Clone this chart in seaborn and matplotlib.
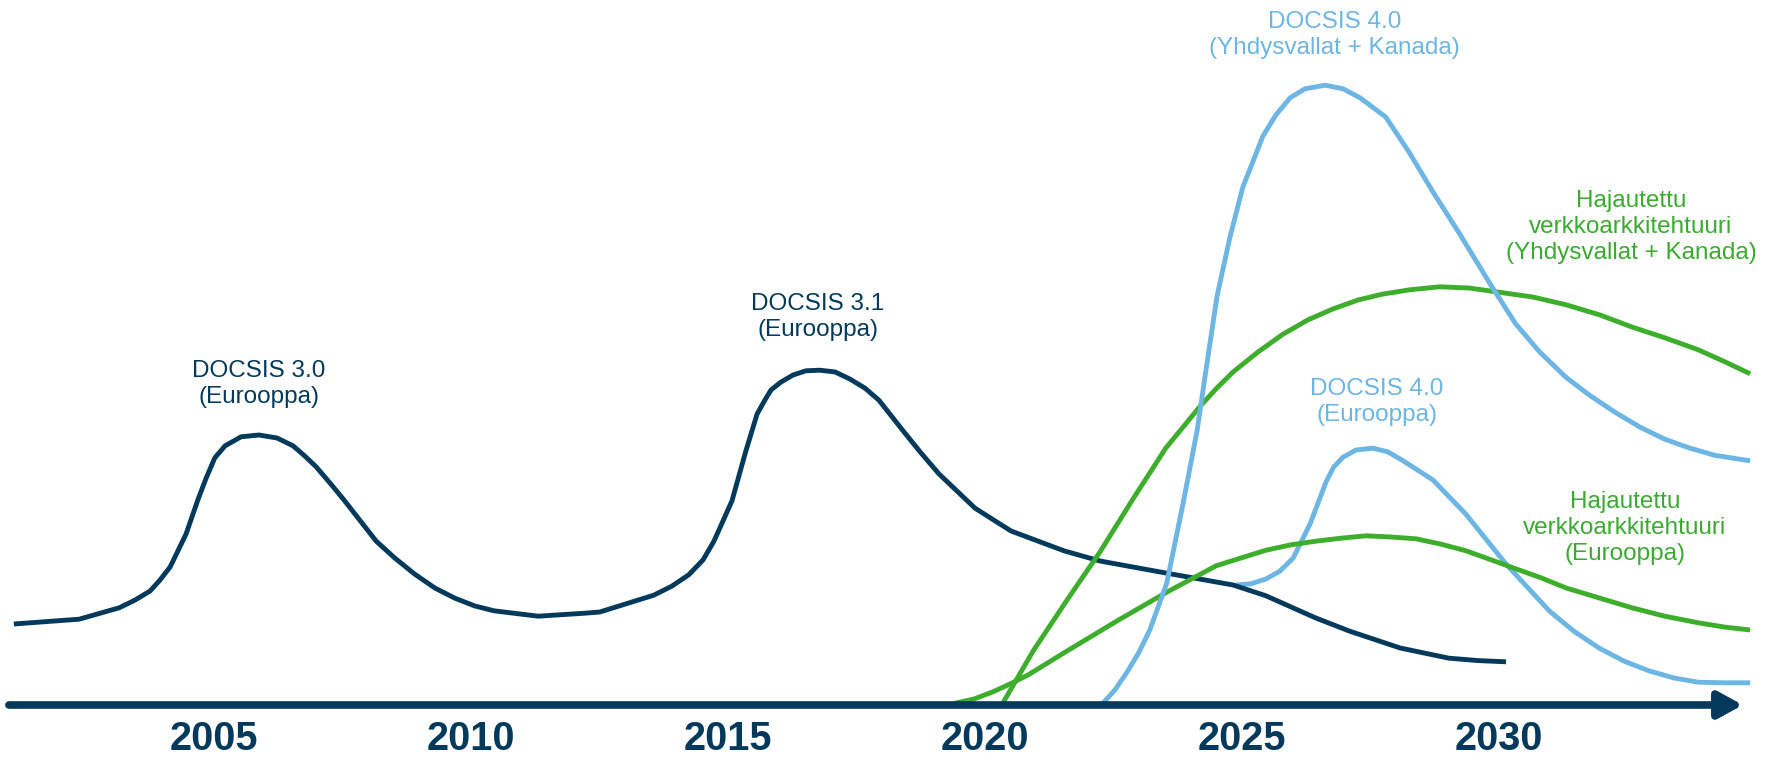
import matplotlib
matplotlib.use("Agg")
import matplotlib.pyplot as plt
import seaborn as sns
import pandas as pd

# ---------------- data (years, relative adoption level) ----------------
navy_years = [2001.11, 2002.38, 2003.16, 2003.47, 2003.76, 2003.95, 2004.15, 2004.46,
              2004.69, 2004.85, 2005.02, 2005.22, 2005.53, 2005.88, 2006.23, 2006.54,
              2006.77, 2006.99, 2007.26, 2007.53, 2007.84, 2008.16, 2008.52, 2008.91,
              2009.30, 2009.69, 2010.08, 2010.45, 2011.31, 2012.22, 2012.51, 2013.56,
              2013.91, 2014.24, 2014.52, 2014.73, 2015.08, 2015.35, 2015.57, 2015.72,
              2015.84, 2016.03, 2016.27, 2016.52, 2016.79, 2017.09, 2017.38, 2017.67,
              2017.94, 2018.41, 2018.74, 2019.11, 2019.81, 2020.51, 2021.54, 2022.24,
              2023.52, 2024.83, 2025.47, 2026.44, 2027.10, 2028.08, 2029.03, 2029.60,
              2030.14]
navy_level = [13.5, 14.3, 16.2, 17.5, 19.0, 20.8, 23.0, 28.5,
              34.2, 37.8, 41.2, 43.2, 44.7, 45.0, 44.5, 43.2,
              41.5, 39.7, 37.0, 34.2, 30.8, 27.3, 24.5, 21.8,
              19.5, 17.8, 16.5, 15.7, 14.8, 15.3, 15.5, 18.3,
              19.8, 21.7, 24.2, 27.3, 34.0, 42.3, 48.5, 50.8,
              52.5, 53.8, 55.0, 55.7, 55.8, 55.5, 54.3, 52.8,
              50.8, 45.7, 42.2, 38.5, 32.8, 29.0, 25.7, 24.0,
              22.0, 20.0, 18.2, 14.5, 12.3, 9.5, 7.8, 7.4,
              7.2]

us_d40_years = [2022.30, 2022.53, 2022.77, 2023.00, 2023.21, 2023.54, 2023.86, 2024.13,
                2024.32, 2024.52, 2024.77, 2025.02, 2025.41, 2025.66, 2025.94, 2026.23,
                2026.62, 2026.97, 2027.30, 2027.80, 2028.25, 2028.72, 2029.24, 2029.83,
                2030.33, 2030.80, 2031.31, 2031.77, 2032.26, 2032.75, 2033.23, 2033.72,
                2034.21, 2034.89]
us_d40_level = [0.3, 2.5, 5.5, 8.8, 12.5, 20.3, 33.7, 45.7,
                56.8, 68.2, 78.0, 86.3, 94.8, 98.3, 101.2, 102.7,
                103.3, 102.7, 101.2, 98.0, 92.2, 85.5, 78.5, 70.2,
                63.5, 58.8, 54.6, 51.6, 48.8, 46.3, 44.3, 42.8,
                41.6, 40.7]

eu_d40_years = [2024.89, 2025.18, 2025.47, 2025.74, 2026.00, 2026.33, 2026.64, 2026.79,
                2026.97, 2027.22, 2027.55, 2027.84, 2028.14, 2028.72, 2029.36, 2030.14,
                2030.98, 2031.46, 2031.95, 2032.44, 2032.92, 2033.41, 2033.88, 2034.38,
                2034.89]
eu_d40_level = [20.0, 20.2, 21.0, 22.3, 24.5, 30.2, 37.2, 39.7,
                41.3, 42.5, 42.8, 42.2, 40.7, 37.5, 31.8, 23.5,
                15.7, 12.3, 9.5, 7.3, 5.7, 4.5, 3.8, 3.7,
                3.7]

us_dist_years = [2020.35, 2020.94, 2021.60, 2022.24, 2022.88, 2023.52, 2024.19, 2024.50,
                 2024.83, 2025.31, 2025.80, 2026.29, 2026.77, 2027.26, 2027.75, 2028.27,
                 2028.84, 2029.42, 2030.00, 2030.66, 2031.31, 2031.97, 2032.59, 2033.23,
                 2033.88, 2034.40, 2034.89]
us_dist_level = [0.3, 9.0, 17.5, 25.5, 34.3, 42.8, 49.8, 52.7,
                 55.5, 58.8, 61.8, 64.2, 66.0, 67.5, 68.5, 69.2,
                 69.7, 69.5, 68.8, 68.0, 66.7, 65.0, 63.0, 61.2,
                 59.2, 57.2, 55.2]

eu_dist_years = [2019.42, 2019.79, 2020.16, 2020.49, 2020.84, 2021.60, 2022.57, 2023.54,
                 2024.50, 2025.47, 2025.96, 2026.44, 2026.93, 2027.42, 2027.90, 2028.39,
                 2028.88, 2029.36, 2029.85, 2030.33, 2030.82, 2031.31, 2031.97, 2032.59,
                 2033.23, 2033.88, 2034.38, 2034.89]
eu_dist_level = [0.3, 1.0, 2.2, 3.5, 5.0, 9.0, 14.0, 18.8,
                 23.2, 25.8, 26.7, 27.3, 27.8, 28.2, 28.0, 27.7,
                 26.8, 25.7, 24.2, 22.7, 21.2, 19.5, 17.8, 16.2,
                 14.8, 13.7, 13.0, 12.5]

tick_years = [2005, 2010, 2015, 2020, 2025, 2030]
tick_labels = ["2005", "2010", "2015", "2020", "2025", "2030"]

labels = [
    ("DOCSIS 3.0\n(Eurooppa)", 2005.88, 53.5, "navy"),
    ("DOCSIS 3.1\n(Eurooppa)", 2016.75, 64.7, "navy"),
    ("DOCSIS 4.0\n(Yhdysvallat + Kanada)", 2026.81, 111.7, "blue"),
    ("Hajautettu\nverkkoarkkitehtuuri\n(Yhdysvallat + Kanada)", 2032.57, 79.7, "green"),
    ("DOCSIS 4.0\n(Eurooppa)", 2027.63, 50.5, "blue"),
    ("Hajautettu\nverkkoarkkitehtuuri\n(Eurooppa)", 2032.45, 29.5, "green"),
]

# ---------------- style ----------------
NAVY = "#033A5C"
BLUE = "#6DB5E2"
GREEN = "#3DAE2B"
GREEN_TXT = "#3AAA30"
colors = {"navy": NAVY, "blue": BLUE, "green": GREEN_TXT}

sns.set_style("white")
plt.rcParams["font.family"] = ["Liberation Sans", "DejaVu Sans"]

fig = plt.figure(figsize=(17.82, 7.61), dpi=100)
ax = fig.add_axes([0, 0.0736, 1, 0.9264])

series = [
    (eu_d40_years, eu_d40_level, BLUE),
    (navy_years, navy_level, NAVY),
    (eu_dist_years, eu_dist_level, GREEN),
    (us_dist_years, us_dist_level, GREEN),
    (us_d40_years, us_d40_level, BLUE),
]
LW = 3.5
for i, (xs, ys, c) in enumerate(series):
    df = pd.DataFrame({"year": xs, "level": ys})
    sns.lineplot(data=df, x="year", y="level", ax=ax, color=c, linewidth=LW,
                 estimator=None, sort=False, zorder=2 + i)
for line in ax.lines:
    line.set_clip_on(False)
    line.set_solid_capstyle("butt")
    line.set_solid_joinstyle("round")

for txt, x, y, c in labels:
    ax.text(x, y, txt, ha="center", va="center", fontsize=17.5,
            color=colors[c], linespacing=1.25, zorder=10)

# timeline arrow
ax.annotate("", xy=(0.978, 0), xytext=(0.005, 0),
            xycoords=("axes fraction", "data"), textcoords=("axes fraction", "data"),
            arrowprops=dict(arrowstyle="-|>,head_length=0.4,head_width=0.22",
                            lw=5.5, color=NAVY, mutation_scale=36,
                            shrinkA=0, shrinkB=0),
            annotation_clip=False, zorder=20)

ax.set_xlim(2000.84, 2035.51)
ax.set_ylim(0, 117.5)
ax.set_xticks(tick_years)
ax.set_xticklabels(tick_labels, fontsize=28.5, fontweight="bold", color=NAVY)
ax.tick_params(axis="x", length=0, pad=11)
ax.set_yticks([])
ax.set_xlabel("")
ax.set_ylabel("")
sns.despine(ax=ax, left=True, bottom=True)
ax.set_facecolor("white")

fig.savefig("out.png", dpi=100, facecolor="white")
